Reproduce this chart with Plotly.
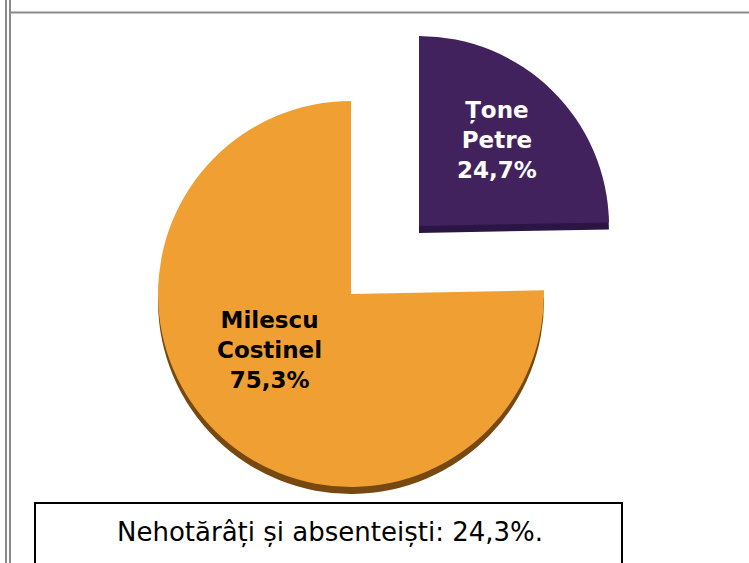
import plotly.graph_objects as go

# date din grafic
candidati = ["Țone Petre", "Milescu Costinel"]
procente = [24.7, 75.3]
nehotarati = 24.3

W, H = 749, 563

culori_fata = ["#41225D", "#F0A032"]
culori_umbra = ["#2B1544", "#77480F"]
transparent = "rgba(0,0,0,0)"


def domeniu(cx, cy, r):
    # cutie patrata in pixeli -> domeniu in coordonate paper
    return dict(x=[(cx - r) / W, (cx + r) / W],
                y=[1 - (cy + r) / H, 1 - (cy - r) / H])


def felie(idx, cx, cy, r, culori):
    cols = [transparent] * len(procente)
    cols[idx] = culori[idx]
    return go.Pie(
        labels=candidati, values=procente, sort=False,
        direction="clockwise", rotation=0,
        marker=dict(colors=cols, line=dict(width=0)),
        textinfo="none", hoverinfo="skip", showlegend=False,
        domain=domeniu(cx, cy, r),
    )


R_OR, R_MOV = 193, 190
ADANC = 7
centru_or = (351, 294)
centru_mov = (419, 226)

fig = go.Figure()
fig.add_trace(felie(1, centru_or[0], centru_or[1] + ADANC, R_OR, culori_umbra))
fig.add_trace(felie(1, centru_or[0], centru_or[1], R_OR, culori_fata))
fig.add_trace(felie(0, centru_mov[0], centru_mov[1] + ADANC, R_MOV, culori_umbra))
fig.add_trace(felie(0, centru_mov[0], centru_mov[1], R_MOV, culori_fata))


def eticheta(i):
    nume = "<br>".join(candidati[i].split(" "))
    return f"<b>{nume}<br>{procente[i]:.1f}%</b>".replace(".", ",")


def text(x, y, t, size, color):
    fig.add_annotation(x=x / W, y=1 - y / H, xref="paper", yref="paper",
                       xanchor="center", yanchor="middle",
                       text=t, showarrow=False,
                       font=dict(family="DejaVu Sans", size=size, color=color))


text(497, 140, eticheta(0), 23, "white")
text(269, 350, eticheta(1), 23, "black")

# caseta de jos
fig.add_shape(type="rect", xref="paper", yref="paper",
              x0=35 / W, x1=622 / W, y0=-0.05, y1=1 - 503 / H,
              line=dict(color="black", width=2), fillcolor="white")
text(330, 532, f"Nehotărâți și absenteiști: {nehotarati:.1f}%.".replace(".", ",", 1),
     26, "black")

# rama
for x in (6, 10):
    fig.add_shape(type="line", xref="paper", yref="paper",
                  x0=x / W, x1=x / W, y0=0, y1=1,
                  line=dict(color="#8A8A8A", width=2))
fig.add_shape(type="line", xref="paper", yref="paper",
              x0=9 / W, x1=1, y0=1 - 12.5 / H, y1=1 - 12.5 / H,
              line=dict(color="#8A8A8A", width=2))

fig.update_layout(
    width=W, height=H,
    margin=dict(l=0, r=0, t=0, b=0),
    paper_bgcolor="white", plot_bgcolor="white",
)

# fara marginea implicita a paginii si fara modebar
fig.write_html("out.html", config={"displayModeBar": False},
               post_script="document.body.style.margin='0';")
